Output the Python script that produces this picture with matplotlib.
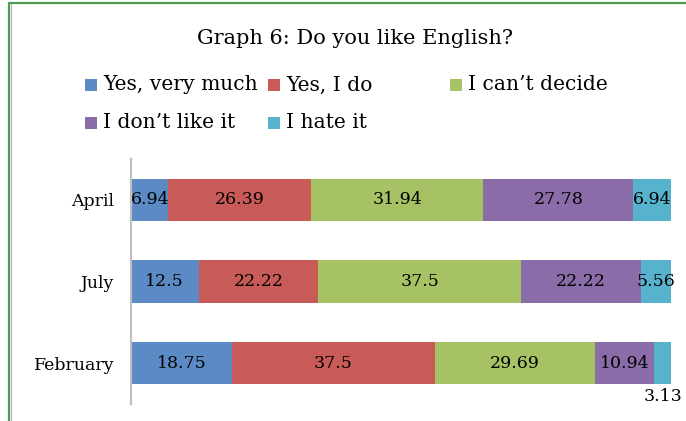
import matplotlib
matplotlib.use("Agg")
import matplotlib.pyplot as plt
from matplotlib.patches import Rectangle
from matplotlib.lines import Line2D

plt.rcParams['font.family'] = ['DejaVu Serif']

# ---- data ----
categories = ["February", "July", "April"]          # bottom -> top
series_names = ["Yes, very much", "Yes, I do", "I can\u2019t decide",
                "I don\u2019t like it", "I hate it"]
yes_very_much = [18.75, 12.5, 6.94]
yes_i_do = [37.5, 22.22, 26.39]
cant_decide = [29.69, 37.5, 31.94]
dont_like = [10.94, 22.22, 27.78]
hate_it = [3.13, 5.56, 6.94]
series_values = [yes_very_much, yes_i_do, cant_decide, dont_like, hate_it]
colors = ["#5B8AC5", "#C85B58", "#A6C264", "#8A6DA8", "#56B2CD"]
title = "Graph 6: Do you like English?"

W, H = 686, 421
fig = plt.figure(figsize=(W / 100, H / 100), dpi=100)
fig.patch.set_facecolor("white")

ax = fig.add_axes([131 / W, 1 - 404 / H, 540 / W, 245 / H])
lefts = [0.0] * len(categories)
ypos = list(range(len(categories)))
fs = 12.5
for name, vals, col in zip(series_names, series_values, colors):
    bars = ax.barh(ypos, vals, left=lefts, height=0.515, color=col, label=name)
    for i, (b, v) in enumerate(zip(bars, vals)):
        cx = lefts[i] + v / 2
        if v < 4:
            ax.annotate(f"{v:g}", (cx, ypos[i] - 0.515 / 2), xytext=(0, -2.5),
                        textcoords="offset points", ha="center", va="top",
                        fontsize=fs, color="black", annotation_clip=False)
        else:
            ax.text(cx, ypos[i], f"{v:g}", ha="center", va="center",
                    fontsize=fs, color="black")
    lefts = [l + v for l, v in zip(lefts, vals)]

ax.set_xlim(0, 100)
ax.set_ylim(-0.5, 2.5)
ax.set_yticks(ypos)
ax.set_yticklabels(categories, fontsize=fs)
ax.tick_params(axis="y", length=0, pad=12)
ax.set_xticks([])
for s in ["top", "right", "bottom"]:
    ax.spines[s].set_visible(False)
ax.spines["left"].set_color("#BFBFBF")
ax.spines["left"].set_linewidth(1.6)

# title
fig.text(355 / W, 1 - 39 / H, title, ha="center", va="center", fontsize=15)

# legend (manual Excel-like grid)
legend_pos = [(85, 85), (268, 85), (450, 85), (85, 123), (268, 123)]
for (lx, ly), name, col in zip(legend_pos, series_names, colors):
    fig.patches.append(Rectangle((lx / W, 1 - (ly + 6) / H), 12 / W, 12 / H,
                                 transform=fig.transFigure, facecolor=col,
                                 edgecolor="none"))
    fig.text((lx + 18) / W, 1 - ly / H, name, ha="left", va="center", fontsize=14.6)

# outer frame (green, cut at right/bottom)
fig.add_artist(Line2D([9 / W, 9 / W, 1.0], [0.0, 1 - 3 / H, 1 - 3 / H],
                      transform=fig.transFigure, color="#4E9A4E", linewidth=1.6))
fig.add_artist(Line2D([10.5 / W, 10.5 / W], [0.0, 1 - 4 / H],
                      transform=fig.transFigure, color="#B0B0B0", linewidth=0.8))

fig.savefig("out.png", dpi=100, facecolor="white")
